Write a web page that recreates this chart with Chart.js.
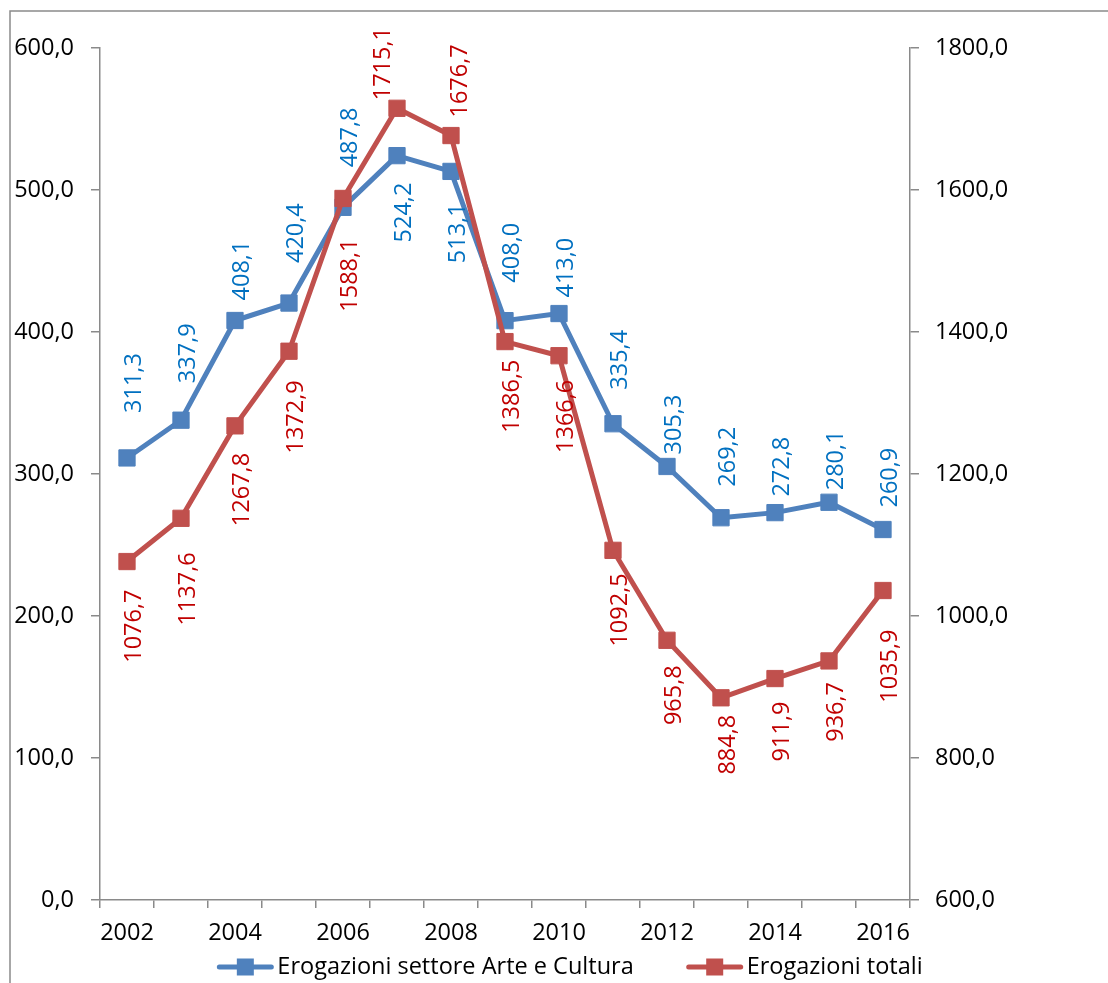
<!DOCTYPE html>
<html>
<head>
<meta charset="utf-8">
<title>Erogazioni</title>
<script src="https://cdn.jsdelivr.net/npm/chart.js@4.4.0/dist/chart.umd.min.js"></script>
<style>
    html, body { margin: 0; padding: 0; background: #fff; }
    canvas { display: block; }
</style>
</head>
<body>
<canvas id="erogazioniChart" width="1108" height="983"></canvas>
<script>
// Data
const years = ['2002', '2003', '2004', '2005', '2006', '2007', '2008', '2009', '2010', '2011', '2012', '2013', '2014', '2015', '2016'];
const arteCultura = [311.3, 337.9, 408.1, 420.4, 487.8, 524.2, 513.1, 408.0, 413.0, 335.4, 305.3, 269.2, 272.8, 280.1, 260.9];
const totali = [1076.7, 1137.6, 1267.8, 1372.9, 1588.1, 1715.1, 1676.7, 1386.5, 1366.6, 1092.5, 965.8, 884.8, 911.9, 936.7, 1035.9];
const leftTicks = [0, 100, 200, 300, 400, 500, 600];
const rightTicks = [600, 800, 1000, 1200, 1400, 1600, 1800];
const seriesNames = ['Erogazioni settore Arte e Cultura', 'Erogazioni totali'];

// Value label placement: 1 = above the point, -1 = below; gap in px from the point
const arteLabelSide = [1, 1, 1, 1, 1, -1, -1, 1, 1, 1, 1, 1, 1, 1, 1];
const arteLabelGap = [45, 37, 20, 40, 40, 27, 32, 38, 16, 34, 12, 31, 16, 12, 22];
const totaliLabelSide = [-1, -1, -1, -1, -1, 1, 1, -1, -1, -1, -1, -1, -1, -1, -1];
const totaliLabelGap = [28, 34, 27, 29, 40, 8, 18, 18, 24, 23, 25, 17, 23, 21, 39];
// sideways nudge, only the 2007 total label sits left of its marker
const totaliLabelShift = [0, 0, 0, 0, 0, -21, 2, 0, 0, 0, 0, 0, 0, 0, 0];

const axisGray = '#8a8a8a';
const FONT = '"Open Sans"';
const FONT_SIZE = 23.5;

function fmt(v) {
    return Number(v).toFixed(1).replace('.', ',');
}

// white background + the thin frame around the chart
const framePlugin = {
    id: 'framePlugin',
    beforeDraw(chart) {
        const ctx = chart.ctx;
        ctx.save();
        ctx.fillStyle = '#fff';
        ctx.fillRect(0, 0, chart.width, chart.height);
        ctx.strokeStyle = axisGray;
        ctx.lineWidth = 1.5;
        ctx.strokeRect(10, 11, chart.width + 20, chart.height + 20);
        ctx.restore();
    }
};

// rotated value labels
const valueLabels = {
    id: 'valueLabels',
    afterDatasetsDraw(chart) {
        const ctx = chart.ctx;
        chart.data.datasets.forEach((ds, i) => {
            const meta = chart.getDatasetMeta(i);
            ctx.save();
            ctx.font = FONT_SIZE + 'px ' + FONT;
            ctx.fillStyle = ds.labelColor;
            ctx.textBaseline = 'middle';
            meta.data.forEach((pt, j) => {
                const side = ds.labelSide[j];
                const shift = ds.labelShift ? ds.labelShift[j] : 0;
                ctx.save();
                ctx.translate(pt.x + 7 + shift, pt.y - side * ds.labelGap[j]);
                ctx.rotate(-Math.PI / 2);
                ctx.textAlign = side > 0 ? 'left' : 'right';
                ctx.fillText(fmt(ds.data[j]), 0, 0);
                ctx.restore();
            });
            ctx.restore();
        });
    }
};

// legend with line + square marker, like the spreadsheet one
const lineLegend = {
    id: 'lineLegend',
    afterDraw(chart) {
        const ctx = chart.ctx;
        const lineLen = 56, textGap = 4, itemGap = 53, markerSize = 17;
        const y = 967;
        ctx.save();
        ctx.font = FONT_SIZE + 'px ' + FONT;
        const widths = chart.data.datasets.map(ds => lineLen + textGap + ctx.measureText(ds.label).width);
        const total = widths.reduce((a, b) => a + b, 0) + itemGap * (widths.length - 1);
        let x = 570 - total / 2;
        chart.data.datasets.forEach((ds, i) => {
            ctx.strokeStyle = ds.borderColor;
            ctx.lineWidth = 5;
            ctx.lineCap = 'round';
            ctx.beginPath();
            ctx.moveTo(x + 2, y);
            ctx.lineTo(x + lineLen - 2, y);
            ctx.stroke();
            ctx.fillStyle = ds.borderColor;
            ctx.fillRect(x + lineLen / 2 - markerSize / 2, y - markerSize / 2, markerSize, markerSize);
            ctx.fillStyle = '#000';
            ctx.textAlign = 'left';
            ctx.textBaseline = 'middle';
            ctx.fillText(ds.label, x + lineLen + textGap, y);
            x += widths[i] + itemGap;
        });
        ctx.restore();
    }
};

function buildChart() {
    const ctx = document.getElementById('erogazioniChart');
    Chart.defaults.font.family = FONT;
    Chart.defaults.font.size = FONT_SIZE;
    Chart.defaults.color = '#000';

    new Chart(ctx, {
        type: 'line',
        data: {
            labels: years,
            datasets: [{
                label: seriesNames[0],
                data: arteCultura,
                yAxisID: 'y',
                order: 1,
                borderColor: '#4F81BD',
                backgroundColor: '#4F81BD',
                borderWidth: 5,
                borderJoinStyle: 'round',
                borderCapStyle: 'round',
                tension: 0,
                pointStyle: 'rect',
                pointRadius: 11.5,
                pointBorderWidth: 1,
                pointBackgroundColor: '#4F81BD',
                labelColor: '#0070C0',
                labelSide: arteLabelSide,
                labelGap: arteLabelGap
            }, {
                label: seriesNames[1],
                data: totali,
                yAxisID: 'y2',
                order: 0,
                borderColor: '#C0504D',
                backgroundColor: '#C0504D',
                borderWidth: 5,
                borderJoinStyle: 'round',
                borderCapStyle: 'round',
                tension: 0,
                pointStyle: 'rect',
                pointRadius: 11.5,
                pointBorderWidth: 1,
                pointBackgroundColor: '#C0504D',
                labelColor: '#C00000',
                labelSide: totaliLabelSide,
                labelGap: totaliLabelGap,
                labelShift: totaliLabelShift
            }]
        },
        options: {
            responsive: false,
            animation: false,
            layout: { padding: { top: 48, left: 0, right: 0, bottom: 0 } },
            plugins: {
                legend: { display: false },
                tooltip: { enabled: false }
            },
            scales: {
                x: {
                    type: 'category',
                    offset: true,
                    grid: { offset: true, drawOnChartArea: false, tickLength: 8, color: axisGray, lineWidth: 1.5 },
                    border: { color: axisGray, width: 1.5 },
                    ticks: {
                        autoSkip: false,
                        maxRotation: 0,
                        padding: 11,
                        callback: (v, i) => (i % 2 === 0 ? years[i] : '')
                    },
                    afterFit: s => { s.height = 83; }
                },
                y: {
                    position: 'left',
                    min: 0,
                    max: 600,
                    afterBuildTicks: s => { s.ticks = leftTicks.map(v => ({ value: v })); },
                    grid: { drawOnChartArea: false, tickLength: 9, color: axisGray, lineWidth: 1.5 },
                    border: { color: axisGray, width: 1.5 },
                    ticks: { padding: 17, callback: v => fmt(v) },
                    afterFit: s => { s.width = 100; }
                },
                y2: {
                    position: 'right',
                    min: 600,
                    max: 1800,
                    afterBuildTicks: s => { s.ticks = rightTicks.map(v => ({ value: v })); },
                    grid: { drawOnChartArea: false, tickLength: 9, color: axisGray, lineWidth: 1.5 },
                    border: { color: axisGray, width: 1.5 },
                    ticks: { padding: 16, callback: v => fmt(v) },
                    afterFit: s => { s.width = 198; }
                }
            }
        },
        plugins: [framePlugin, valueLabels, lineLegend]
    });
}

if (document.fonts && document.fonts.load) {
    document.fonts.load(FONT_SIZE + 'px ' + FONT).then(buildChart, buildChart);
} else {
    buildChart();
}
</script>
</body>
</html>
